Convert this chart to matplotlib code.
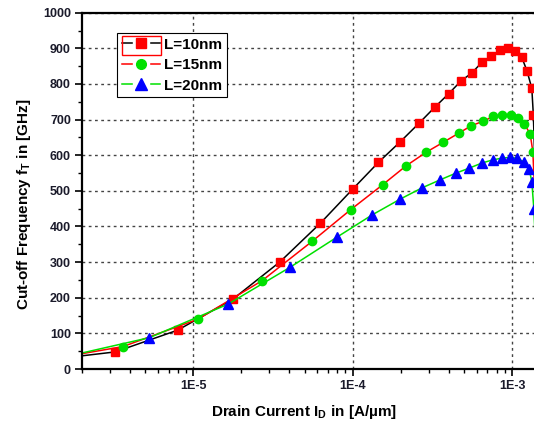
import numpy as np
import matplotlib
matplotlib.use("Agg")
import matplotlib.pyplot as plt
from matplotlib.lines import Line2D
from matplotlib.patches import Rectangle
from matplotlib.legend_handler import HandlerTuple
from matplotlib.ticker import MultipleLocator, FixedLocator, FixedFormatter, LogLocator, NullFormatter

plt.rcParams['font.family'] = ['Liberation Sans', 'DejaVu Sans']
plt.rcParams['font.weight'] = 'bold'

# --- Data ---
# first and last points carry the line only, markers sit on the rest
L10_x = [2e-6, 3.24e-6, 7.97e-6, 1.77e-5, 3.5e-5, 6.26e-5, 1.0e-4, 1.45e-4, 1.99e-4,
         2.61e-4, 3.26e-4, 4.01e-4, 4.77e-4, 5.59e-4, 6.48e-4, 7.38e-4, 8.41e-4,
         9.4e-4, 1.045e-3, 1.15e-3, 1.24e-3, 1.33e-3, 1.36e-3, 1.42e-3]
L10_y = [37, 48, 109, 196, 301, 409, 505, 580, 638, 690, 734, 773, 808, 831, 861,
         879, 894, 901, 893, 875, 837, 788, 713, 450]

L15_x = [2e-6, 3.62e-6, 1.07e-5, 2.7e-5, 5.55e-5, 9.7e-5, 1.54e-4, 2.16e-4, 2.88e-4,
         3.69e-4, 4.63e-4, 5.56e-4, 6.55e-4, 7.64e-4, 8.69e-4, 9.8e-4, 1.087e-3,
         1.195e-3, 1.30e-3, 1.35e-3, 1.42e-3]
L15_y = [43, 63, 140, 248, 358, 447, 517, 570, 608, 636, 662, 683, 695, 709, 713,
         714, 704, 688, 659, 610, 400]

L20_x = [2e-6, 5.3e-6, 1.65e-5, 4.06e-5, 7.96e-5, 1.33e-4, 1.99e-4, 2.71e-4, 3.54e-4,
         4.46e-4, 5.4e-4, 6.46e-4, 7.57e-4, 8.69e-4, 9.7e-4, 1.08e-3, 1.19e-3,
         1.28e-3, 1.33e-3, 1.37e-3, 1.42e-3]
L20_y = [45, 88, 182, 286, 370, 433, 477, 508, 531, 550, 564, 578, 587, 592, 594,
         591, 581, 561, 526, 449, 300]

labels = ['L=10nm', 'L=15nm', 'L=20nm']
x_ticks = [1e-5, 1e-4, 1e-3]
x_ticklabels = ['1E-5', '1E-4', '1E-3']

green = '#00e000'
styles = [('black', 's', 6, 'red'), ('red', 'o', 6, green), (green, '^', 7, 'blue')]

# --- Figure ---
fig = plt.figure(figsize=(5.34, 4.25), dpi=100)
# axes runs past the right edge of the picture (cropped in the reference)
ax = fig.add_axes([82/534, 56/425, 468/534, 356.3/425])

handles = []
for (xs, ys), (lc, mk, ms, mc) in zip([(L10_x, L10_y), (L15_x, L15_y), (L20_x, L20_y)], styles):
    ax.plot(xs, ys, color=lc, lw=1.1, marker=mk, ms=ms, mfc=mc, mec=mc,
            markevery=slice(1, -1))
    # Origin-style legend symbol: line broken around the marker
    handles.append((Line2D([], [], color=lc, lw=1.1),
                    Line2D([], [], ls='none', marker='s', ms=11, mfc='white', mec='white'),
                    Line2D([], [], ls='none', marker=mk, ms=ms + 1, mfc=mc, mec=mc)))

ax.set_xscale('log')
ax.set_xlim(2e-6, 1.73e-3)
ax.set_ylim(0, 1000)

ax.xaxis.set_major_locator(FixedLocator(x_ticks))
ax.xaxis.set_major_formatter(FixedFormatter(x_ticklabels))
ax.xaxis.set_minor_locator(LogLocator(base=10, subs=np.arange(2, 10)))
ax.xaxis.set_minor_formatter(NullFormatter())
ax.yaxis.set_major_locator(MultipleLocator(100))
ax.yaxis.set_minor_locator(MultipleLocator(50))

ax.tick_params(which='major', direction='out', length=5, width=1.2, labelsize=9, pad=3)
ax.tick_params(which='minor', direction='out', length=3, width=1)
for lab in ax.get_xticklabels() + ax.get_yticklabels():
    lab.set_fontweight('bold')
    lab.set_color('#1a1a2a')

ax.grid(True, which='major', color='#444444', linestyle=(0, (2, 2.5)), linewidth=1)
for sp in ax.spines.values():
    sp.set_linewidth(1.6)

ax.set_xlabel('Drain Current I$_\\mathregular{D}$ in [A/\u00b5m]', fontsize=11,
              fontweight='bold')
ax.set_ylabel('Cut-off Frequency f$_\\mathregular{T}$ in [GHz]', fontsize=11,
              fontweight='bold')
ax.xaxis.set_label_coords(0.474, -0.095)
ax.yaxis.set_label_coords(-0.105, 0.463)

leg = ax.legend(handles, labels, handler_map={tuple: HandlerTuple(ndivide=1)},
                loc='upper left', bbox_to_anchor=(117/534, 1 - 33/425),
                bbox_transform=fig.transFigure, fancybox=False, shadow=False,
                edgecolor='black', framealpha=1, handlelength=2.5,
                handletextpad=0.3, borderpad=0.3, labelspacing=0.43, borderaxespad=0,
                prop={'weight': 'bold', 'size': 11})
leg.get_frame().set_linewidth(0.8)

# red highlight box around the first legend symbol
fig.patches.append(Rectangle((121.5/534, 1 - 55/425), 39.5/534, 18.5/425,
                             transform=fig.transFigure, fill=False,
                             edgecolor='red', linewidth=1))

fig.savefig('out.png', dpi=100)
